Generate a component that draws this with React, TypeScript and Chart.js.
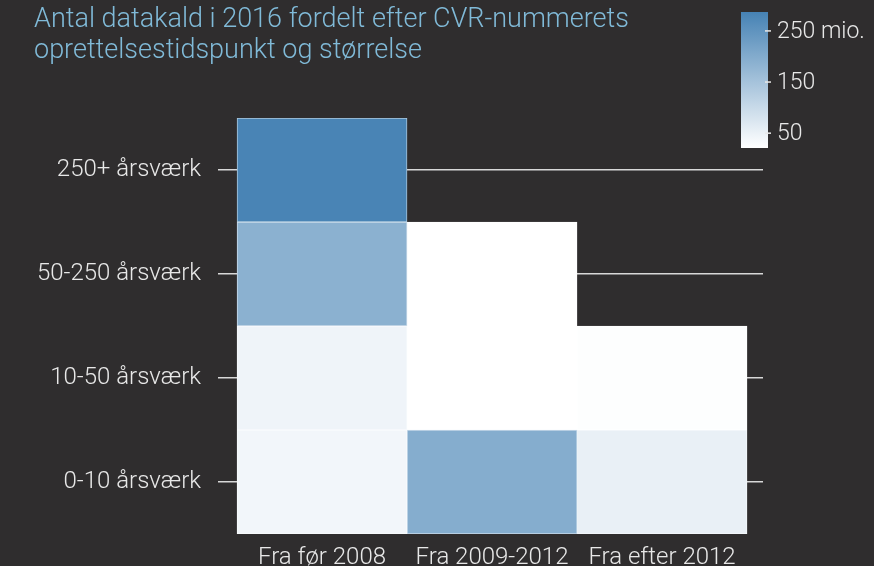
import React, { useEffect, useRef } from "react";
import { Chart, registerables } from "chart.js";

Chart.register(...registerables);

const titleLines = ["Antal datakald i 2016 fordelt efter CVR-nummerets", "oprettelsestidspunkt og størrelse"];
const columnLabels = ["Fra før 2008", "Fra 2009-2012", "Fra efter 2012"];
const rowLabels = ["250+ årsværk", "50-250 årsværk", "10-50 årsværk", "0-10 årsværk"];
// values (mio. datakald) per column, rows in order of rowLabels
const fraFoer2008 = [283, 188, 44, 40];
const fra2009til2012 = [null, 21, 21, 196];
const fraEfter2012 = [null, null, 24, 53];
const columnValues = [fraFoer2008, fra2009til2012, fraEfter2012];
const colorMin = 21;
const colorMax = 287;
const legendTicks = [250, 150, 50];
const legendTickLabels = ["250 mio.", "150", "50"];

const BG = "#2f2d2e";
const LOW = [255, 255, 255];
const HIGH = [70, 130, 180];
const FONT = "Roboto, 'Noto Sans', sans-serif";

function rgbFor(v: number) {
  const t = Math.max(0, Math.min(1, (v - colorMin) / (colorMax - colorMin)));
  return LOW.map((l, i) => Math.round(l + (HIGH[i] - l) * t));
}
function colorFor(v: number) {
  const c = rgbFor(v);
  return `rgb(${c[0]},${c[1]},${c[2]})`;
}
function borderFor(v: number) {
  const c = rgbFor(v).map((x) => Math.round(x + (255 - x) * 0.55));
  return `rgb(${c[0]},${c[1]},${c[2]})`;
}

const colorbarPlugin = {
  id: "colorbar",
  afterDraw(chart: any) {
    const ctx = chart.ctx;
    const x = 741, w = 27, top = 12, bottom = 148;
    ctx.save();
    const g = ctx.createLinearGradient(0, bottom, 0, top);
    for (let i = 0; i <= 10; i++) {
      const v = colorMin + (i / 10) * (colorMax - colorMin);
      g.addColorStop(i / 10, colorFor(v));
    }
    ctx.fillStyle = g;
    ctx.fillRect(x, top, w, bottom - top);
    ctx.strokeStyle = "#e8e8e8";
    ctx.lineWidth = 1.5;
    ctx.fillStyle = "#e8e8e8";
    ctx.font = `300 23px ${FONT}`;
    ctx.textBaseline = "middle";
    ctx.textAlign = "left";
    legendTicks.forEach((v, i) => {
      const y = bottom - ((v - colorMin) / (colorMax - colorMin)) * (bottom - top);
      ctx.beginPath();
      ctx.moveTo(x + w - 3, y);
      ctx.lineTo(x + w + 3, y);
      ctx.stroke();
      ctx.fillText(legendTickLabels[i], x + w + 9, y + 1);
    });
    ctx.restore();
  },
};

export default function App() {
  const ref = useRef<HTMLCanvasElement | null>(null);
  useEffect(() => {
    if (!ref.current) return;
    const datasets = columnValues.map((vals, col) => ({
      label: columnLabels[col],
      data: vals.map((v) => (v == null ? null : [col - 0.5, col + 0.5])),
      backgroundColor: vals.map((v) => (v == null ? "rgba(0,0,0,0)" : colorFor(v))),
      borderColor: vals.map((v) => (v == null ? "rgba(0,0,0,0)" : borderFor(v))),
      borderWidth: 1,
      borderSkipped: false,
      grouped: false,
      barPercentage: 1,
      categoryPercentage: 1,
    }));
    const chart = new Chart(ref.current, {
      type: "bar",
      data: { labels: rowLabels, datasets: datasets as any },
      options: {
        animation: false,
        responsive: true,
        maintainAspectRatio: false,
        indexAxis: "y",
        layout: { padding: { left: 34, right: 111, top: 0, bottom: 0 } },
        plugins: {
          legend: { display: false },
          tooltip: { enabled: false },
          title: {
            display: true,
            text: titleLines,
            align: "start",
            color: "#80bad8",
            font: { family: FONT, size: 27, weight: 300, lineHeight: 1.15 },
            padding: { top: 5, bottom: 50.9 },
          },
        },
        scales: {
          x: {
            type: "linear",
            min: -0.612,
            max: 2.594,
            afterBuildTicks: (s: any) => {
              s.ticks = columnLabels.map((_, i) => ({ value: i }));
            },
            afterFit: (s: any) => {
              s.height = 32;
            },
            grid: { display: false },
            border: { display: false },
            ticks: {
              color: "#e8e8e8",
              font: { family: FONT, size: 24, weight: 300 },
              padding: 2,
              maxRotation: 0,
              autoSkip: false,
              callback: (v: any) => columnLabels[v] ?? "",
            },
          },
          y: {
            type: "category",
            offset: true,
            afterFit: (s: any) => {
              s.width = 184;
            },
            grid: { offset: false, color: "rgba(235,235,235,0.9)", lineWidth: 1.5, drawTicks: false },
            border: { display: false },
            ticks: {
              color: "#e8e8e8",
              font: { family: FONT, size: 24, weight: 300 },
              padding: 17,
            },
          },
        },
      },
      plugins: [colorbarPlugin],
    });
    return () => chart.destroy();
  }, []);
  return (
    <div style={{ position: "fixed", left: 0, top: 0, width: 874, height: 566, background: BG }}>
      <canvas ref={ref} />
    </div>
  );
}
